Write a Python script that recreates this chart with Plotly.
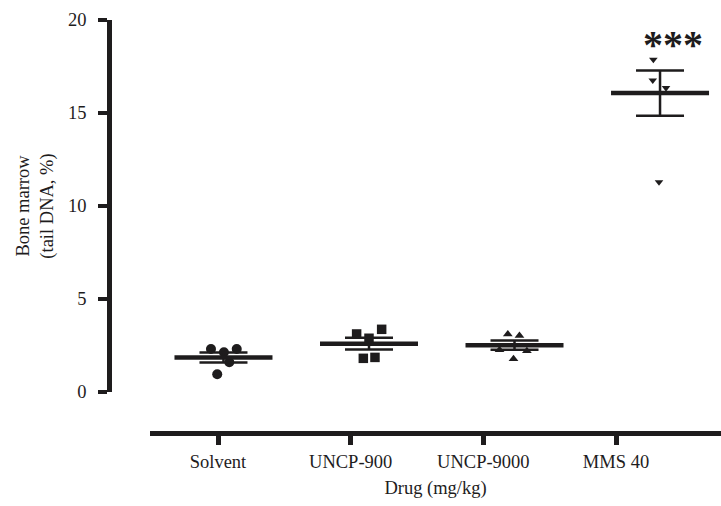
import numpy as np
import plotly.graph_objects as go

categories = ["Solvent", "UNCP-900", "UNCP-9000", "MMS 40"]
y_ticks = [0, 5, 10, 15, 20]

solvent = [2.31, 2.31, 2.14, 1.60, 0.95]
uncp900 = [3.12, 3.37, 2.89, 1.81, 1.86]
uncp9000 = [3.11, 3.03, 2.26, 2.21, 1.78]
mms40 = [17.87, 16.76, 16.35, 11.29]

group_means = [1.86, 2.60, 2.52, 16.07]
group_sems = [0.27, 0.31, 0.25, 1.22]

# horizontal scatter of the points within each column (category units)
jitter = [
    [-0.086, 0.091, 0.003, 0.040, -0.043],
    [-0.085, 0.087, 0.0, -0.039, 0.041],
    [-0.046, 0.034, -0.103, 0.085, -0.007],
    [-0.046, -0.050, 0.041, -0.007],
]

groups = [solvent, uncp900, uncp9000, mms40]
symbols = ["circle", "square", "triangle-up", "triangle-down"]
sizes = [10, 9.5, 8.5, 7.5]

INK = "#1e1c1d"
FONT = "Liberation Serif"

fig = go.Figure()

# empty trace so the category axis (x, y) subplot exists
fig.add_trace(go.Scatter(x=[None], y=[None], xaxis="x", yaxis="y",
                         mode="markers", showlegend=False, hoverinfo="skip"))

for i, (vals, sym, sz) in enumerate(zip(groups, symbols, sizes)):
    xs = [i + j for j in jitter[i]]
    fig.add_trace(go.Scatter(
        x=xs, y=vals, mode="markers", xaxis="x2", yaxis="y",
        marker=dict(symbol=sym, size=sz, color=INK, line=dict(width=0)),
        showlegend=False, hoverinfo="y"))

# mean line + SEM whiskers
fig.add_trace(go.Scatter(
    x=list(range(len(categories))), y=group_means, mode="markers",
    xaxis="x2", yaxis="y",
    marker=dict(symbol="line-ew-open", size=70, color=INK,
                line=dict(width=4.5, color=INK)),
    error_y=dict(type="data", array=group_sems, symmetric=True,
                 width=24, thickness=2.5, color=INK),
    showlegend=False, hoverinfo="y"))

fig.add_annotation(
    x=3, y=18.67, xref="x2", yref="y", xshift=13,
    text="<b>***</b>", showarrow=False,
    font=dict(family=FONT, size=40, color=INK),
    yanchor="middle")

L, R, T, B = 109, 0, 20, 73
W, H = 721, 506
plot_w = W - L - R
plot_h = H - T - B
x_dom0 = 41 / plot_w
y_dom0 = 41 / plot_h

tick_font = dict(family=FONT, size=18.5, color=INK)

fig.update_layout(
    width=W, height=H,
    margin=dict(l=L, r=R, t=T, b=B, pad=0),
    paper_bgcolor="white", plot_bgcolor="white",
    font=dict(family=FONT, size=18.5, color=INK),
    xaxis=dict(
        domain=[x_dom0, 1], anchor="free", position=0,
        range=[-0.5126, 3.7915],
        tickmode="array", tickvals=list(range(len(categories))),
        ticktext=categories,
        showgrid=False, zeroline=False,
        showline=True, linewidth=4.5, linecolor=INK,
        ticks="outside", ticklen=9, tickwidth=4.5, tickcolor=INK,
        tickfont=tick_font, ticklabelstandoff=1,
        title=dict(text="Drug (mg/kg)", font=tick_font, standoff=10),
        automargin=False,
    ),
    xaxis2=dict(
        domain=[x_dom0, 1],
        overlaying="x", anchor="y", visible=False,
        range=[-0.505, 3.419],
    ),
    yaxis=dict(
        domain=[y_dom0, 1], anchor="free", position=0,
        range=[0, 20],
        tickmode="array", tickvals=y_ticks,
        showgrid=False, zeroline=False,
        showline=True, linewidth=4.5, linecolor=INK,
        ticks="outside", ticklen=9, tickwidth=4, tickcolor=INK,
        tickfont=tick_font, ticklabelstandoff=8,
        title=dict(text="Bone marrow<br>(tail DNA, %)", font=tick_font,
                   standoff=8),
        automargin=False,
    ),
)

fig.write_html(
    "out.html",
    config={"displayModeBar": False},
    post_script="document.body.style.margin='0';document.body.style.overflow='hidden';",
)
